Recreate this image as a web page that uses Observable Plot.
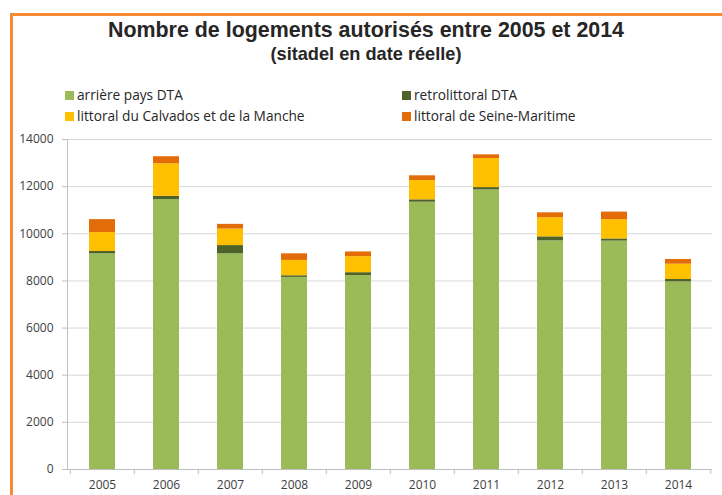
<!DOCTYPE html>
<html>
<head>
<meta charset="utf-8">
<script src="https://cdn.jsdelivr.net/npm/d3@7"></script>
<script src="https://cdn.jsdelivr.net/npm/@observablehq/plot@0.6"></script>
<style>
  html, body { margin: 0; padding: 0; background: #fff; width: 722px; height: 495px; overflow: hidden; }
  #frame { position: absolute; left: 10px; top: 13px; width: 800px; height: 600px; border-left: 3px solid #F68B33; border-top: 3px solid #F68B33; box-sizing: border-box; }
  #title { position: absolute; left: 0; width: 732px; top: 17px; text-align: center; font-family: "Liberation Sans", Arial, sans-serif; font-weight: bold; color: #262626; }
  #title .t1 { font-size: 21.4px; line-height: 26px; }
  #title .t2 { font-size: 18.2px; line-height: 22px; }
  .leg { position: absolute; font-family: "Open Sans", sans-serif; font-size: 13.7px; color: #262626; white-space: nowrap; line-height: 16px; }
  .leg span.sw { display: inline-block; width: 9px; height: 9px; margin-right: 3px; vertical-align: 0px; }
  #chart { position: absolute; left: 0; top: 129px; }
</style>
</head>
<body>
<div id="frame"></div>
<div id="title"><div class="t1">Nombre de logements autorisés entre 2005 et 2014</div><div class="t2">(sitadel en date réelle)</div></div>
<div id="legend"></div>
<div id="chart"></div>
<script>
const years = ["2005","2006","2007","2008","2009","2010","2011","2012","2013","2014"];
const seriesNames = ["arrière pays DTA", "retrolittoral DTA", "littoral du Calvados et de la Manche", "littoral de Seine-Maritime"];
const seriesColors = ["#9BBB59", "#4F6228", "#FFC000", "#E36C09"];
const arrierePays   = [9150, 11450, 9150, 8150, 8230, 11340, 11860, 9700, 9690, 7960];
const retrolittoral = [100, 140, 350, 70, 120, 100, 100, 170, 90, 100];
const littoralCalv  = [800, 1380, 700, 650, 680, 820, 1230, 810, 820, 650];
const littoralSM    = [550, 300, 200, 280, 200, 200, 160, 210, 320, 200];
const yTicks = [0, 2000, 4000, 6000, 8000, 10000, 12000, 14000];

const seriesValues = [arrierePays, retrolittoral, littoralCalv, littoralSM];
const data = [];
years.forEach((yr, i) => seriesNames.forEach((s, k) => data.push({year: yr, series: s, value: seriesValues[k][i]})));

// legend
const legendPos = [[65, 87], [402, 87], [65, 108], [402, 108]];
const leg = document.getElementById("legend");
seriesNames.forEach((s, k) => {
  const d = document.createElement("div");
  d.className = "leg";
  d.style.left = legendPos[k][0] + "px";
  d.style.top = legendPos[k][1] + "px";
  d.innerHTML = `<span class="sw" style="background:${seriesColors[k]}"></span>${s}`;
  leg.appendChild(d);
});

const W = 722, ML = 67, MR = 10;
const step = (W - ML - MR) / years.length;

const chart = Plot.plot({
  width: W,
  height: 370,
  marginLeft: ML,
  marginRight: MR,
  marginTop: 10,
  marginBottom: 30,
  style: {fontFamily: "Open Sans, sans-serif", fontSize: "12px", color: "#404040", background: "transparent"},
  x: {domain: years, paddingInner: 0.6, paddingOuter: 0.3, axis: null},
  y: {domain: [0, 14000], axis: null},
  color: {domain: seriesNames, range: seriesColors},
  marks: [
    Plot.ruleY(yTicks, {stroke: "#d9d9d9", strokeWidth: 1}),
    Plot.barY(data, {x: "year", y: "value", fill: "series", order: seriesNames}),
    Plot.ruleY([0], {stroke: "#bfbfbf"}),
    Plot.frame({anchor: "left", stroke: "#bfbfbf"}),
    Plot.axisY({ticks: yTicks, tickSize: 5, tickPadding: 9, stroke: "#bfbfbf", fill: "#404040", tickFormat: d => String(d), label: null}),
    Plot.ruleX(years, {x: d => d, y1: 0, y2: 0, insetBottom: -5, dx: -step / 2, stroke: "#bfbfbf"}),
    Plot.ruleX(years.slice(-1), {x: d => d, y1: 0, y2: 0, insetBottom: -5, dx: step / 2, stroke: "#bfbfbf"}),
    Plot.axisX({tickSize: 0, tickPadding: 11, fill: "#404040", label: null})
  ]
});
document.getElementById("chart").appendChild(chart);
</script>
</body>
</html>
